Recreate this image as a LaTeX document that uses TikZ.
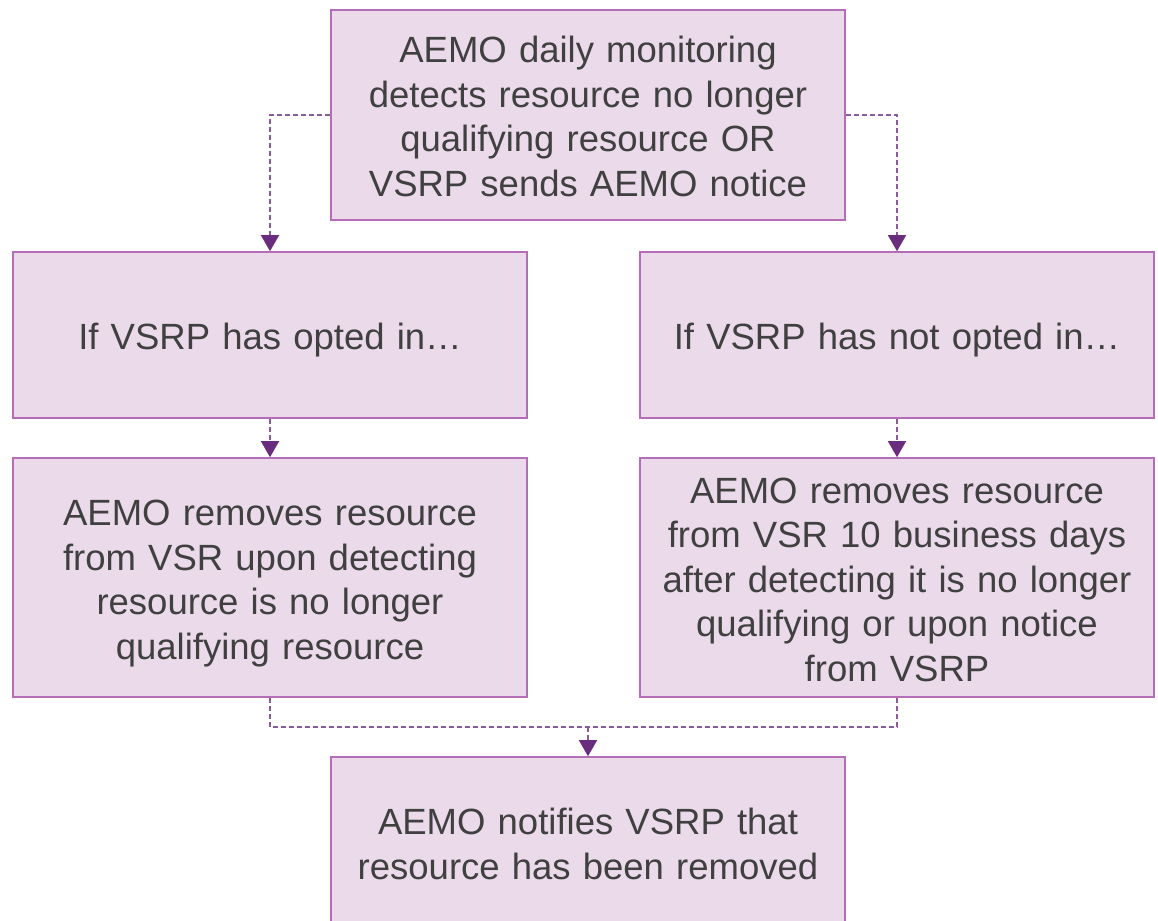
\documentclass[tikz,border=0pt]{standalone}
\usepackage{fontspec}
\setmainfont{Liberation Sans}
\usetikzlibrary{arrows.meta,positioning,calc}
\definecolor{boxfill}{HTML}{EBDAEA}
\definecolor{boxline}{HTML}{B46DB6}
\definecolor{linkcol}{HTML}{8B5A9C}
\definecolor{tipcol}{HTML}{6A2C7C}
\definecolor{txtcol}{HTML}{404040}
\tikzset{
  box/.style={draw=boxline,line width=1.6pt,fill=boxfill,rectangle,
    text=txtcol,align=center,font=\fontsize{36.5}{44.5}\selectfont,
    inner sep=0pt,
    execute at begin node={\rule{0pt}{38pt}},
    execute at end node={\rule[-8.5pt]{0pt}{8.5pt}}},
  link/.style={draw=linkcol,line width=1.5pt,dash pattern=on 5pt off 3pt},
  arrow/.style={link,-{Triangle[length=16pt,width=18pt,fill=tipcol,color=tipcol,sep=0pt]}}
}
\begin{document}
\begin{tikzpicture}[x=1pt,y=-1pt]
  \useasboundingbox (0,0) rectangle (1158,920);

  \node[box,minimum width=514pt,minimum height=210pt,text width=490pt] (detect) at (588,115)
    {AEMO daily monitoring\\detects resource no longer\\qualifying resource OR\\VSRP sends AEMO notice};

  \node[box,minimum width=514pt,minimum height=166pt,text width=490pt] (optin) at (270,335)
    {If VSRP has opted in\ldots};
  \node[box,minimum width=514pt,minimum height=166pt,text width=490pt] (optout) at (897,335)
    {If VSRP has not opted in\ldots};

  \node[box,minimum width=514pt,minimum height=239pt,text width=490pt] (rmin) at (270,577.5)
    {AEMO removes resource\\from VSR upon detecting\\resource is no longer\\qualifying resource};
  \node[box,minimum width=514pt,minimum height=239pt,text width=505pt] (rmout) at (897,577.5)
    {AEMO removes resource\\from VSR 10 business days\\after detecting it is no longer\\qualifying or upon notice\\from VSRP};

  \node[box,minimum width=514pt,minimum height=170pt,text width=490pt] (notify) at (588,842)
    {AEMO notifies VSRP that\\resource has been removed};

  % connectors
  \draw[arrow] (detect.west) -| (optin.north);
  \draw[arrow] (detect.east) -| (optout.north);
  \draw[arrow] (optin.south) -- (rmin.north);
  \draw[arrow] (optout.south) -- (rmout.north);

  \coordinate (join) at (588,727);
  \draw[link] (rmin.south) |- (join) -| (rmout.south);
  \draw[arrow] (join) -- (notify.north);
\end{tikzpicture}
\end{document}
